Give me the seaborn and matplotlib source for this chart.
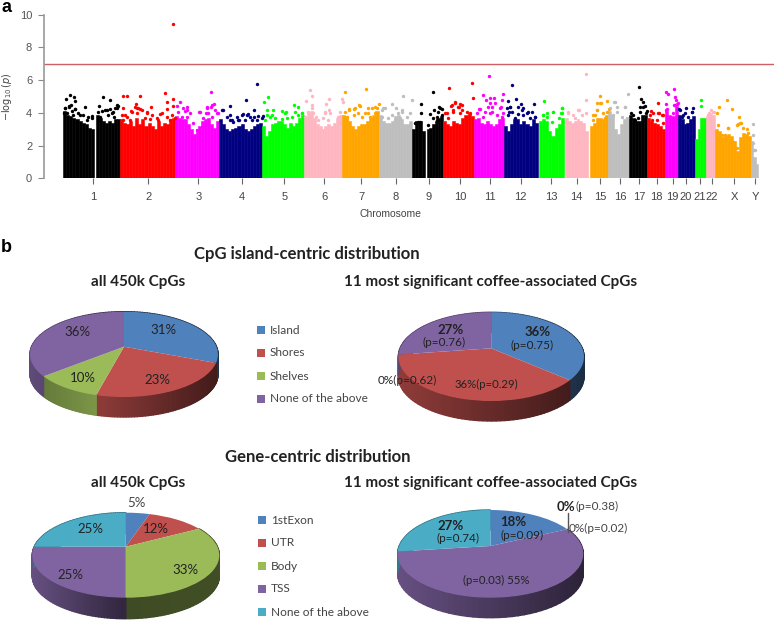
#### Manhattan plot and CpG distribution pies ####
import numpy as np
import matplotlib
matplotlib.use('Agg')
import matplotlib.pyplot as plt
from matplotlib.transforms import Transform
import seaborn as sns

sns.set_theme(style='white')
plt.rcParams['font.family'] = ['Liberation Sans', 'DejaVu Sans']
PIE_FONT = ['Lato', 'DejaVu Sans']

# Manhattan data
chrom_labels = ['1', '2', '3', '4', '5', '6', '7', '8', '9', '10', '11', '12', '13', '14', '15',
                '16', '17', '18', '19', '20', '21', '22', 'X', 'Y']
chrom_ticks = [93.3, 148.3, 198.3, 242.3, 284.3, 324.3, 361, 395.7, 429, 460, 490, 520.7, 551.3,
               576.7, 600, 620, 639.3, 656.7, 672.7, 686, 700, 712, 734.3, 755]
chrom_cycle = ['black', '#ff0000', '#ff00ff', '#000080', '#00ff00', '#ffb6c1', '#ffa500', '#bebebe']
y_ticks = [0, 2, 4, 6, 8, 10]
threshold = 7

# solid part of each chromosome: start, end, height across the chromosome
seg_start = [63, 96, 120, 175, 219, 262, 304, 342, 378.5, 411.7, 426.7, 443, 473.7, 504, 538.7, 565,
             590, 608, 628.7, 647, 664.7, 678, 694.7, 706, 715, 751]
seg_end = [94, 120, 175, 219, 262, 304, 342, 378.5, 411.7, 425, 443, 473.7, 504, 537.7, 564, 588,
           608, 628.7, 647, 664.7, 678, 694.7, 706, 715, 751, 758]
seg_chrom = [0, 0, 1, 2, 3, 4, 5, 6, 7, 8, 8, 9, 10, 11, 12, 13, 14, 15, 16, 17, 18, 19, 20, 21, 22, 23]
env_1a = [4.1, 3.9, 3.8, 3.7, 3.6, 3.5, 3.4, 3.3, 3.1, 3.0]
env_1b = [3.9, 3.7, 3.5, 3.4, 3.5, 3.4, 3.6, 3.6]
env_2 = [3.6, 3.4, 3.3, 3.5, 3.2, 3.7, 3.3, 3.6, 3.2, 3.4, 3.2, 3.0, 3.5, 3.2, 3.4, 3.3, 3.6, 3.7]
env_3 = [3.8, 3.7, 3.6, 3.6, 3.3, 3.0, 2.7, 3.0, 3.2, 3.5, 3.6, 3.7, 3.3, 3.1, 3.5]
env_4 = [3.6, 3.3, 3.0, 2.9, 3.0, 3.1, 3.2, 3.3, 3.0, 2.9, 3.0, 3.2, 3.3, 3.4]
env_5 = [3.2, 2.6, 2.9, 3.3, 3.4, 3.5, 3.5, 3.3, 3.1, 3.4, 3.2, 3.4, 3.7, 3.9]
env_6 = [3.7, 4.0, 4.1, 3.7, 3.3, 3.2, 3.0, 3.2, 3.3, 3.2, 3.4, 3.7, 3.9]
env_7 = [3.9, 3.8, 3.5, 3.2, 3.0, 3.2, 3.3, 3.3, 3.5, 3.7, 3.9, 4.1]
env_8 = [3.9, 3.5, 3.4, 3.4, 3.5, 3.8, 3.9, 3.6, 3.3, 3.3, 3.5]
env_9a = [3.0, 3.5, 3.5, 2.9]
env_9b = [3.0, 3.1, 3.3, 3.5, 3.7, 3.8]
env_10 = [3.5, 3.3, 3.2, 3.5, 3.4, 3.3, 3.7, 3.9, 4.0, 3.8]
env_11 = [3.6, 3.7, 3.4, 3.3, 3.5, 3.3, 3.2, 3.3, 3.6, 3.7]
env_12 = [3.2, 2.9, 3.3, 3.6, 3.6, 3.3, 3.5, 3.3, 3.2, 3.6, 3.4]
env_13 = [3.5, 3.6, 3.5, 2.9, 2.6, 3.1, 3.3, 3.7]
env_14 = [3.7, 3.5, 3.4, 3.5, 3.6, 3.5, 3.4, 2.9]
env_15 = [3.2, 3.4, 3.7, 3.7, 3.6, 3.9]
env_16 = [4.1, 3.9, 3.0, 2.7, 3.3, 3.6, 3.6]
env_17 = [3.9, 3.7, 3.5, 3.5, 3.9, 3.9]
env_18 = [3.7, 3.5, 3.4, 3.3, 3.2, 3.0]
env_19 = [4.1, 3.9, 3.8, 4.4]
env_20 = [3.9, 3.6, 3.3, 3.4, 3.6, 3.8]
env_21 = [2.4, 3.0, 3.7, 3.7]
env_22 = [3.8, 4.0, 3.9]
env_x = [3.0, 2.9, 2.5, 2.6, 2.7, 2.6, 2.3, 1.7, 2.5, 2.8, 2.7, 2.6]
env_y = [2.3, 1.3, 0.9]
envelopes = [env_1a, env_1b, env_2, env_3, env_4, env_5, env_6, env_7, env_8, env_9a, env_9b, env_10,
             env_11, env_12, env_13, env_14, env_15, env_16, env_17, env_18, env_19, env_20, env_21,
             env_22, env_x, env_y]

# loose points above the solid part
chr1_x = [70, 66, 74, 74.7, 70.7, 69.3, 75.3, 65, 85, 99, 102.7, 110.3, 117.3, 106.7, 115, 111.7, 63.5, 80, 91.7,
          65, 66.7, 71.7, 75, 78.3, 83.3, 88.3, 91.7, 69, 73.3, 86.7, 98.3, 101.7, 105, 110, 113.3, 116.7, 118.3, 100, 108.3, 114.3]
chr1_y = [5.09, 4.82, 4.97, 4.72, 4.51, 4.34, 4.23, 4.28, 4.34, 4.42, 4.95, 4.79, 4.48, 4.18, 4.28, 3.99, 3.97, 3.87, 3.8,
          4.28, 4.02, 4.14, 4.22, 3.98, 3.88, 3.77, 3.67, 4.43, 3.88, 3.57, 4.08, 4.14, 4.18, 4.22, 4.08, 4.28, 4.43, 3.77, 3.88, 3.77]
chr2_x = [122.7, 127.3, 140.3, 165.3, 173.3, 173.3, 166.7, 166.7, 173.3, 122.7, 135.7, 137.3, 151, 140, 131.7, 125, 146.7, 160,
          121.7, 126.7, 131, 135, 138.3, 142.3, 146.7, 151.7, 156.7, 161.7, 166.7, 171.7, 175, 136.7, 130, 158.3, 170, 145, 123.3, 150]
chr2_y = [5.05, 5.05, 5.03, 5.19, 9.43, 4.85, 4.66, 4.26, 4.42, 4.32, 4.52, 4.28, 4.38, 4.22, 4.07, 3.87, 4.07, 3.93,
          3.88, 3.77, 4.14, 4.39, 4.28, 4.18, 3.98, 3.88, 3.67, 3.98, 3.77, 3.88, 3.67, 3.98, 3.57, 3.57, 3.57, 3.67, 3.57, 3.61]
chr3_x = [180, 210.7, 214, 207.3, 211, 187.3, 185, 199.3, 206, 176.7, 216.7, 193.3,
          178.3, 183.3, 186.7, 190, 181.7, 186.7, 200, 206.7, 211.7, 215, 218.3, 208.3, 203.3, 201.7, 211.7, 196.7]
chr3_y = [4.66, 5.27, 4.56, 4.34, 4.38, 4.38, 4.13, 4.03, 4.01, 4.42, 3.97, 3.36,
          4.08, 4.28, 4.18, 3.98, 3.77, 3.77, 4.08, 4.28, 4.49, 4.18, 3.98, 3.98, 3.67, 3.16, 3.77, 2.96]
chr4_x = [257.3, 246.3, 230, 222.7, 254.3, 243.3, 230, 248.3, 262.7, 238,
          231.7, 236.7, 241.7, 246.7, 250, 254, 258.3, 233.3, 239.3, 245, 251.7, 256.7, 261.7, 221.7, 226.7, 230]
chr4_y = [5.76, 4.81, 4.44, 4.15, 4.15, 3.91, 3.87, 3.91, 3.83, 3.56,
          3.57, 3.77, 3.88, 3.88, 3.77, 3.77, 3.82, 3.47, 3.57, 3.57, 3.57, 3.57, 3.67, 4.18, 3.77, 3.57]
chr5_x = [267.7, 264, 266.7, 273.3, 281.7, 286, 294, 297.7, 270, 301.7,
          266.7, 271.7, 275, 281.7, 286.7, 291.7, 295, 298.3, 301.7, 303.3, 265, 285]
chr5_y = [4.95, 4.68, 4.2, 4.15, 4.11, 4.07, 4.48, 4.34, 3.77, 3.97,
          3.88, 3.88, 3.67, 3.61, 3.67, 3.77, 4.08, 3.88, 3.98, 3.77, 3.57, 4.02]
chr6_x = [309.7, 312.3, 306, 329, 325.7, 311.7, 325, 329.3, 343.3, 342.3,
          308.3, 311.7, 312.7, 316, 318.3, 325, 328.3, 330, 323.3, 338.3, 340, 305, 310]
chr6_y = [5.4, 5.05, 4.72, 4.85, 4.54, 4.48, 4.07, 4.18, 4.64, 4.85,
          4.08, 4.28, 3.98, 3.77, 3.57, 3.98, 3.57, 3.98, 3.67, 3.77, 4.08, 3.77, 3.67]
chr7_x = [345, 366, 360, 368.3, 379, 349.3, 354, 375, 365,
          345, 349.3, 355, 359.3, 354, 358.3, 361.7, 368.3, 371.7, 376.7, 375, 346.7, 370]
chr7_y = [5.27, 5.48, 4.44, 4.32, 4.56, 4.18, 4.22, 4.34, 3.97,
          4.08, 4.22, 4.28, 4.49, 3.88, 3.98, 3.77, 3.98, 4.28, 4.28, 3.98, 3.77, 3.77]
chr8_x = [402.7, 411.7, 391.7, 395.7, 401.7, 410, 383,
          381.7, 385, 391.7, 398.3, 401.7, 406.7, 381.7, 388.3, 395, 400]
chr8_y = [5.01, 4.79, 4.56, 4.28, 4.18, 3.97, 4.28,
          4.18, 4.28, 3.88, 3.98, 4.08, 3.77, 3.77, 3.67, 3.57, 3.67]
chr9_x = [432.7, 420.7, 420.7, 434, 439.3, 430.3, 442, 437.3, 418.3,
          415, 420, 428.3, 433.3, 438.3, 440, 441.7, 436.7]
chr9_y = [5.27, 4.52, 3.97, 4.15, 4.34, 3.91, 4.22, 3.77, 3.46,
          3.37, 3.47, 3.27, 3.67, 4.08, 4.28, 3.88, 3.57]
chr10_x = [449.3, 472, 472.7, 454.7, 460, 450.7, 458.7, 461.7, 445, 453.3,
           446.7, 451.7, 455, 458.3, 461.7, 466.7, 470, 453.3, 460, 448.3]
chr10_y = [5.52, 5.85, 4.91, 4.64, 4.52, 4.42, 4.34, 4.18, 4.01, 4.18,
           3.98, 4.49, 4.59, 4.39, 4.49, 4.08, 3.98, 4.08, 3.98, 3.67]
chr11_x = [489, 483.3, 503, 494, 490, 485.7, 502.3, 490, 488.3, 479, 500.7, 491.7,
           476.7, 480, 485, 491.7, 495, 500, 503.3, 483.3, 490, 496.7, 501.7]
chr11_y = [6.27, 5.07, 5.15, 4.89, 4.93, 4.79, 4.79, 4.58, 4.38, 4.22, 4.38, 4.07,
           3.98, 4.22, 4.08, 4.39, 4.59, 4.28, 3.98, 3.77, 3.98, 3.88, 3.77]
chr12_x = [512, 516, 507.7, 534, 521.3, 510, 523.3, 509.3, 535, 518.3, 528.3,
           506.7, 510, 512.3, 518.3, 521.7, 526.7, 531.7, 535, 508.3, 515, 523.3, 530]
chr12_y = [5.7, 4.85, 4.72, 4.54, 4.52, 4.38, 4.28, 4.07, 3.77, 3.93, 4.07,
           4.28, 4.39, 4.08, 4.39, 4.18, 3.98, 4.08, 3.77, 3.88, 3.67, 3.88, 3.67]
chr13_x = [543.7, 562, 553.3, 561, 543.3, 546.7, 543.3, 546.7, 553.3, 561.7, 561.7, 551.7, 559]
chr13_y = [4.75, 4.28, 4.07, 3.97, 3.87, 3.97, 3.88, 3.77, 4.08, 4.28, 3.98, 3.47, 3.67]
chr14_x = [585.7, 585.7, 586, 579, 567.7, 568.3, 573.3, 578.3, 575, 581.7]
chr14_y = [6.37, 4.77, 3.97, 4.18, 4.01, 4.08, 3.88, 4.18, 3.67, 3.88]
chr15_x = [599.7, 607, 596.7, 600.7, 597.3, 609.3, 593.3, 593.3, 596.7, 600, 603.3, 606.7, 595, 605]
chr15_y = [5.01, 4.72, 4.58, 4.58, 4.18, 4.26, 3.87, 3.57, 4.18, 4.59, 3.98, 4.08, 3.88, 3.67]
chr16_x = [628, 615.3, 625, 617.3, 610, 614.3, 616.7, 621.7, 625, 626.7, 613.3]
chr16_y = [5.15, 4.68, 4.38, 4.34, 4.28, 4.69, 4.08, 3.77, 4.39, 3.67, 3.88]
chr17_x = [638.7, 641, 643.3, 645, 647.3, 640, 630.7, 633.3, 640, 643.3, 645.7, 638.3, 635]
chr17_y = [5.56, 4.85, 4.64, 4.42, 4.13, 4.38, 4.02, 3.88, 4.08, 4.39, 3.98, 3.67, 3.57]
chr18_x = [658, 650.7, 658.7, 663.3, 650, 653.3, 658.3, 661.7, 651.7, 656.7, 662.7]
chr18_y = [4.58, 4.11, 4.01, 3.87, 3.88, 3.98, 4.02, 3.88, 3.57, 3.57, 3.37]
chr19_x = [674.3, 666, 668, 675, 676, 666, 666, 674.3, 677.3, 672.7, 667.3, 675, 678.3]
chr19_y = [5.48, 5.27, 5.17, 4.99, 4.79, 4.54, 4.18, 4.48, 4.54, 3.97, 4.22, 4.49, 4.59]
chr20_x = [686.3, 693.3, 679.3, 683.3, 691.7, 680, 685, 691.7, 681.7, 688.3]
chr20_y = [4.3, 4.32, 4.22, 3.87, 4.07, 4.18, 3.98, 4.08, 3.77, 3.77]
chr21_x = [701.3, 701.3]
chr21_y = [4.79, 4.44]
chr22_x = [711.3, 708.3, 714.3, 709.3, 713.3, 710.7, 708.3]
chr22_y = [4.18, 3.87, 4.07, 3.98, 4.08, 3.67, 3.57]
chrx_x = [727, 719.3, 731.7, 717.3, 739, 741, 746.7, 728.3, 738.3, 718.3, 721.7, 728.3, 725, 736.7, 740, 743.3, 748.3, 733.3, 736.7]
chrx_y = [4.77, 4.34, 4.22, 3.97, 3.75, 3.4, 3.0, 3.05, 3.3, 3.27, 2.65, 3.06, 2.65, 3.27, 3.37, 3.06, 2.76, 2.25, 1.84]
chry_x = [752.7, 753.3, 754, 752.7, 755]
chry_y = [3.3, 2.14, 1.73, 2.65, 1.74]
peak_xs = [chr1_x, chr2_x, chr3_x, chr4_x, chr5_x, chr6_x, chr7_x, chr8_x, chr9_x, chr10_x, chr11_x, chr12_x,
           chr13_x, chr14_x, chr15_x, chr16_x, chr17_x, chr18_x, chr19_x, chr20_x, chr21_x, chr22_x, chrx_x, chry_x]
peak_ys = [chr1_y, chr2_y, chr3_y, chr4_y, chr5_y, chr6_y, chr7_y, chr8_y, chr9_y, chr10_y, chr11_y, chr12_y,
           chr13_y, chr14_y, chr15_y, chr16_y, chr17_y, chr18_y, chr19_y, chr20_y, chr21_y, chr22_y, chrx_y, chry_y]

# Pie data
island_labels = ['Island', 'Shores', 'Shelves', 'None of the above']
gene_labels = ['1stExon', 'UTR', 'Body', 'TSS', 'None of the above']
island_all = [31, 23, 10, 36]
island_top = [36, 36, 0, 27]
gene_all = [5, 12, 33, 25, 25]
gene_top = [18, 0, 0, 55, 27]
island_colors = ['#4F81BD', '#C0504D', '#9BBB59', '#8064A2']
gene_colors = ['#4F81BD', '#C0504D', '#9BBB59', '#8064A2', '#4BACC6']

fig = plt.figure(figsize=(7.74, 6.21), dpi=100)

# Panel a
ax = fig.add_axes([44 / 774, 1 - 178.4 / 621, 730 / 774, 163.7 / 621])
for start, end, chrom, env in zip(seg_start, seg_end, seg_chrom, envelopes):
    col = chrom_cycle[chrom % len(chrom_cycle)]
    step = (end - start) / len(env)
    pos = start + step * (np.arange(len(env)) + 0.5)
    sns.barplot(x=pos, y=env, color=col, saturation=1, native_scale=True, width=1, errorbar=None,
                linewidth=0.4, edgecolor=col, ax=ax)
for i, (px, py) in enumerate(zip(peak_xs, peak_ys)):
    sns.scatterplot(x=px, y=py, color=chrom_cycle[i % len(chrom_cycle)], s=6, linewidth=0, ax=ax, clip_on=False)
ax.axhline(threshold, color='#cf5f62', lw=1)
ax.set_xlim(44, 774)
ax.set_ylim(0, 10)
ax.set_xticks(chrom_ticks, chrom_labels)
ax.set_yticks(y_ticks, [str(t) for t in y_ticks])
ax.tick_params(axis='x', length=4.5, width=0.8, color='#666666', labelcolor='#444444', labelsize=8, pad=5, bottom=True)
ax.tick_params(axis='y', length=4.5, width=0.8, color='#888888', labelcolor='#555555', labelsize=8, pad=4, left=True)
sns.despine(ax=ax, bottom=True)
ax.spines['left'].set_color('#999999')
ax.spines['left'].set_linewidth(1.2)
ax.set_xlabel('Chromosome', color='#444444', fontsize=7.5, labelpad=0)
ax.xaxis.set_label_coords((390 - 44) / 730, -(214 - 178.4) / 163.7, transform=ax.transAxes)
ax.xaxis.label.set_verticalalignment('center')
ax.set_ylabel(r'$-\log_{10}(p)$', color='#444444', fontsize=7)
ax.yaxis.set_label_coords(-(44 - 14) / 730, (178.4 - 97) / 163.7, transform=ax.transAxes)

# Panel b, drawn in picture pixels
pix = fig.add_axes([0, 0, 1, 1], zorder=3)
pix.patch.set_alpha(0)
pix.axis('off')


class TiltedDisc(Transform):
    # unit disc seen in perspective, the near half looks bigger
    input_dims = output_dims = 2
    is_separable = False
    has_inverse = False

    def __init__(self, cx, apex, top, bottom, half_width):
        super().__init__()
        self.cx, self.apex = cx, apex
        up, down = apex - top, bottom - apex
        self.k = (down - up) / (down + up)
        self.b = up * (1 + self.k)
        self.a = half_width * np.sqrt(1 - self.k ** 2)

    def transform_non_affine(self, values):
        values = np.asarray(values, dtype=float)
        s = 1 / (1 + self.k * values[:, 1])
        return np.column_stack([self.cx + self.a * values[:, 0] * s, self.apex - self.b * values[:, 1] * s])


def pie_3d(values, colors, shades, cx, apex, top, bottom, half_width, depth):
    disc = TiltedDisc(cx, apex, top, bottom, half_width)
    wedges, _ = pix.pie(values, colors=colors, startangle=90, counterclock=False, frame=True,
                        wedgeprops={'linewidth': 0})
    for wedge, col, (left, right) in zip(wedges, colors, shades):
        wedge.set_transform(disc + pix.transData)
        wedge.set_clip_on(False)
        wedge.set_zorder(3)
        if wedge.theta2 - wedge.theta1 < 0.01:
            continue
        # side wall of this slice, only the part turned to the viewer
        theta = np.radians(np.linspace(wedge.theta1, wedge.theta2, 60))
        rim = disc.transform_non_affine(np.column_stack([np.cos(theta), np.sin(theta)]))
        front = np.sin(theta) < 0.12
        if not front.any():
            continue
        xlo, xhi = rim[front, 0].min(), rim[front, 0].max()
        rgb = np.array(matplotlib.colors.to_rgb(col))
        for a, b in zip(rim[:-1], rim[1:]):
            mid = (a[0] + b[0]) / 2
            shade = left + (right - left) * (mid - xlo) / max(xhi - xlo, 1)
            pix.fill([a[0], b[0], b[0], a[0]], [a[1], b[1], b[1] + depth, a[1] + depth],
                     color=rgb * np.clip(shade, 0.2, 1), lw=1, zorder=2, clip_on=False)


pie_3d(island_all, island_colors, [(.4, .4), (.75, .35), (.65, .8), (.75, .7)], 124, 346.7, 311.7, 397, 94, 20)
pie_3d(island_top, island_colors, [(.4, .35), (.75, .35), (.5, .5), (.7, .7)], 491.2, 348.3, 312.3, 401, 92.8, 20)
pie_3d(gene_all, gene_colors, [(.5, .5), (.5, .5), (.4, .42), (.8, .38), (.7, .7)], 125.8, 546.7, 512.7, 597.7, 93.5, 21)
pie_3d(gene_top, gene_colors, [(.5, .5), (.5, .5), (.5, .5), (.8, .35), (.7, .7)], 490.5, 546, 510, 597.7, 92.8, 20)
pix.set_aspect('auto')
pix.set_xlim(0, 774)
pix.set_ylim(621, 0)


def label(x, y, s, size=9.5, weight='normal', ha='center', color='#222222', family=PIE_FONT):
    pix.text(x, y, s, fontsize=size, fontweight=weight, ha=ha, va='center', color=color, family=family, zorder=5)


# Panel letters
label(2, 8, 'a', 13, 'bold', ha='left', color='black', family=['Liberation Sans'])
label(1, 248, 'b', 13, 'bold', ha='left', color='black', family=['Liberation Sans'])

# Titles
label(307, 254, 'CpG island-centric distribution', 12, 'bold')
label(318, 456.7, 'Gene-centric distribution', 12, 'bold')
for y in (282, 482.7):
    label(138, y, 'all 450k CpGs', 11, 'bold')
    label(490.5, y, '11 most significant coffee-associated CpGs', 11, 'bold')

# Legends
for i, name in enumerate(island_labels):
    y = 330 + 23 * i
    pix.scatter(261, y, marker='s', s=26, color=island_colors[i], linewidth=0, zorder=5)
    label(270, y, name, 8.6, ha='left', color='#444444')
for i, name in enumerate(gene_labels):
    y = 520 + 23 * i
    pix.scatter(262, y, marker='s', s=26, color=gene_colors[i], linewidth=0, zorder=5)
    label(271, y, name, 8.6, ha='left', color='#444444')

# Slice labels
label(163.3, 330, '31%')
label(157, 380, '23%')
label(83, 378, '10%')
label(77, 331.7, '36%')

label(537.3, 331.5, '36%', weight='bold')
label(531.7, 345, '(p=0.75)', 8.5)
label(451, 329.5, '27%', weight='bold')
label(444, 342, '(p=0.76)', 8.5)
label(407.5, 380, '0%(p=0.62)', 8.5)
label(486.7, 384, '36%(p=0.29)', 8.2)

label(136, 503.3, '5%', color='#444444')
label(156, 529.3, '12%')
label(185.7, 570, '33%')
label(70.7, 575, '25%')
label(90.7, 529.3, '25%')

label(575, 506.7, '0%', weight='bold', ha='right')
label(575, 506.7, '(p=0.38)', 8.5, ha='left', color='#444444')
label(598.7, 528, '0%(p=0.02)', 8.5, color='#444444')
pix.plot([568.3, 568.3], [513.3, 531.7], color='#555555', lw=1, zorder=5)
label(513.3, 522.5, '18%', weight='bold')
label(522.3, 535, '(p=0.09)', 8.5)
label(450.7, 526, '27%', weight='bold')
label(457.7, 538.5, '(p=0.74)', 8.5)
label(496, 580.7, '(p=0.03) 55%', 8.2)

fig.savefig('out.png', dpi=100)
